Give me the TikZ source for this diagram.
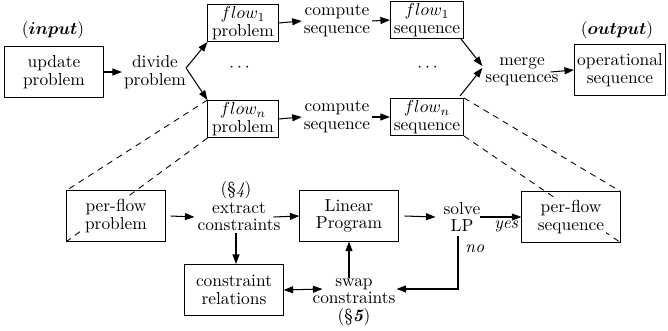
\documentclass[tikz,border=0pt]{standalone}
\usepackage{amsmath}
\usetikzlibrary{arrows.meta,calc}
\begin{document}
\begin{tikzpicture}[x=0.575pt,y=-0.575pt,
  every node/.style={font=\fontsize{10}{10}\selectfont},
  txt/.style={align=center, inner sep=1pt},
  bigbox/.style={draw, line width=0.6pt, align=center, minimum width=56.4pt, minimum height=28.8pt, inner sep=1pt},
  flowbox/.style={draw, line width=0.6pt, align=center, minimum width=40.3pt, minimum height=21.3pt, inner sep=0pt},
  seqbox/.style={flowbox, minimum width=42pt},
  arr/.style={-{Triangle[length=5.5pt,width=4pt]}, line width=0.6pt},
  darr/.style={{Triangle[length=5.5pt,width=4pt]}-{Triangle[length=5.5pt,width=4pt]}, line width=0.6pt},
  dsh/.style={dashed, dash pattern=on 3.5pt off 3pt, line width=0.5pt}]
\useasboundingbox (0,0) rectangle (668,330);

% top row
\node[txt] (inlab) at (53,30) {$(\boldsymbol{input})$};
\node[bigbox] (upd) at (54,72) {update\\problem};
\node[txt] (div) at (155,72) {divide\\problem};
\node[flowbox] (f1p) at (243,23) {$flow_1$\\[0pt]problem};
\node[flowbox] (fnp) at (243,119) {$flow_n$\\[0pt]problem};
\node (d1) at (241,68) {$\cdots$};
\node[txt] (c1) at (337,21) {compute\\sequence};
\node[txt] (cn) at (337,117) {compute\\sequence};
\node[seqbox] (f1s) at (427,20) {$flow_1$\\[0pt]sequence};
\node[seqbox] (fns) at (427,117) {$flow_n$\\[0pt]sequence};
\node (d2) at (429,68) {$\cdots$};
\node[txt] (mrg) at (522,72) {merge\\sequences};
\node[bigbox, minimum width=52.3pt] (op) at (620,70) {operational\\sequence};
\node[txt] (outlab) at (617,30) {$(\boldsymbol{output})$};

\draw[arr] (upd.east) -- (div.west);
\draw[arr] ($(div.east)+(-2,-4)$) -- (f1p.south west);
\draw[arr] ($(div.east)+(-2,-4)$) -- (fnp.north west);
\draw[arr] (f1p.east) -- (c1.west);
\draw[arr] (fnp.east) -- (cn.west);
\draw[arr] (c1.east) -- (f1s.west);
\draw[arr] (cn.east) -- (fns.west);
\draw[arr] ($(f1s.south east)+(-3,0)$) -- ($(mrg.west)+(-1,-6)$);
\draw[arr] ($(fns.north east)+(-4,-2)$) -- ($(mrg.west)+(-1,-4)$);
\draw[arr] ($(mrg.east)+(-10,0)$) -- (op.west);

% bottom part
\node[bigbox] (pfp) at (116,216) {};
\node[bigbox] (pfs) at (571,217) {};
\draw[dsh] (fnp.north west) -- (pfp.north west);
\draw[dsh] (fnp.south west) -- (pfp.south west);
\draw[dsh] (fns.north east) -- (pfs.north east);
\draw[dsh] (fns.south east) -- (pfs.south east);
\node[txt, fill=white] (pfpt) at (pfp.center) {per-flow\\problem};
\node[txt, fill=white] (pfst) at (pfs.center) {per-flow\\sequence};

\node[txt] (s4) at (236,190) {(\S\textit{4})};
\node[txt] (ext) at (239,217) {extract\\constraints};
\node[bigbox] (lp) at (349,216) {Linear\\Program};
\node[txt] (slv) at (462,217) {solve\\LP};
\node[bigbox, minimum height=29.3pt] (rel) at (234,290) {constraint\\relations};
\node[txt] (swp) at (354,291) {swap\\constraints};
\node[txt] (s5) at (354,317) {(\S\textbf{\textit{5}})};

\draw[arr] ($(pfp.east)+(5,0)$) -- ($(ext.west)+(-1,0)$);
\draw[arr] ($(ext.east)+(-9,0)$) -- (lp.west);
\draw[arr] ($(lp.east)+(6,0)$) -- ($(slv.west)+(-6,0)$);
\draw[arr] ($(slv.east)+(-2,0)$) -- node[below, inner sep=2pt, xshift=3pt]{\textit{yes}} (pfs.west);
\draw[arr] ($(slv.south)+(-4,2)$) |- node[right, pos=0.12, inner sep=4pt]{\textit{no}} ($(swp.east)+(-1,-2)$);
\draw[arr] ($(swp.north -| lp.south)+(0,2)$) -- (lp.south);
\draw[arr] ($(ext.south -| rel.north)+(2,0)$) -- ($(rel.north)+(2,0)$);
\draw[darr] (rel.east) -- ($(swp.west)+(12,-2)$);
\end{tikzpicture}
\end{document}
